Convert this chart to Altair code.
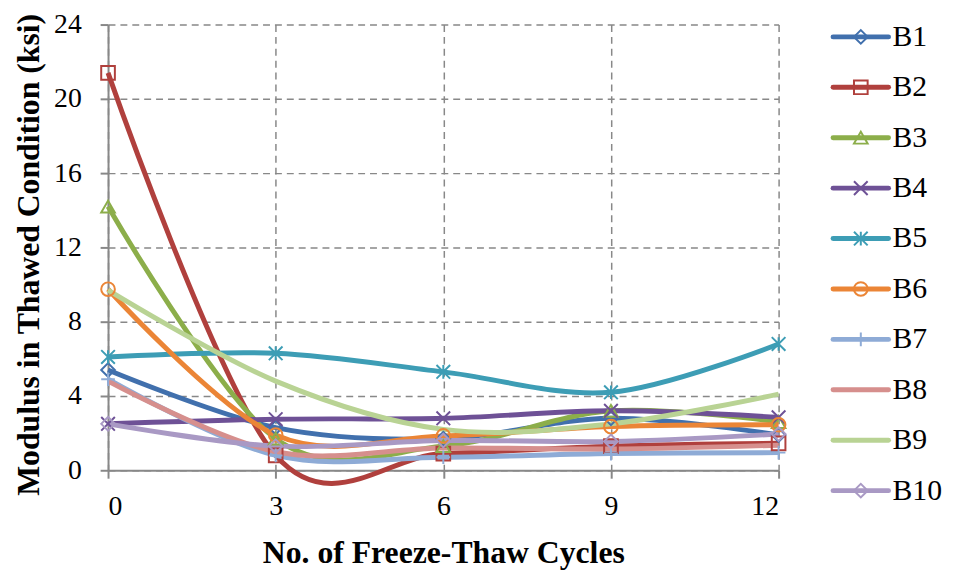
import altair as alt
import pandas as pd

cycles = [0, 3, 6, 9, 12]
series = ["B1", "B2", "B3", "B4", "B5", "B6", "B7", "B8", "B9", "B10"]
values = {
    "B1": [5.4, 2.3, 1.7, 2.8, 1.9],
    "B2": [21.4, 0.8, 0.9, 1.3, 1.45],
    "B3": [14.2, 1.7, 1.3, 3.2, 2.6],
    "B4": [2.5, 2.75, 2.8, 3.2, 2.85],
    "B5": [6.1, 6.3, 5.3, 4.2, 6.8],
    "B6": [9.75, 1.9, 1.85, 2.35, 2.45],
    "B7": [4.9, 0.8, 0.7, 0.9, 0.95],
    "B8": [4.8, 1.0, 1.2, 1.15, 1.35],
    "B9": [9.7, 4.8, 2.2, 2.5, 4.1],
    "B10": [2.5, 1.3, 1.6, 1.55, 1.95],
}
y_ticks = [0, 4, 8, 12, 16, 20, 24]
colors = ["#4170AD", "#B0403D", "#8CAE4A", "#6E5196", "#3D9DB5",
          "#EB8536", "#8EABD6", "#D68F8D", "#B9D394", "#A999C4"]
marker_series = ["B1", "B2", "B3", "B4", "B5", "B6", "B7", "B10"]
marker_shapes = [
    "diamond", "square", "triangle-up",
    "M-1,-1L1,1M-1,1L1,-1",
    "M-1,-1L1,1M-1,1L1,-1M0,-1L0,1",
    "circle",
    "M-1,0L1,0M0,-1L0,1",
    "diamond",
]

rows = []
for i, s in enumerate(series):
    for c, v in zip(cycles, values[s]):
        rows.append({"series": s, "order": i, "cycles": c, "modulus": v})
df = pd.DataFrame(rows)
leg = pd.DataFrame({"series": series})

FONT = "Liberation Serif"
GRAY = "#888888"
color_enc = alt.Color("series:N", scale=alt.Scale(domain=series, range=colors), legend=None)
shape_enc = alt.Shape("series:N", scale=alt.Scale(domain=marker_series, range=marker_shapes), legend=None)

axis_style = dict(labelFont=FONT, labelFontSize=28, labelColor="black",
                  titleFont=FONT, titleFontWeight="bold", titleColor="black",
                  domainColor=GRAY, domainWidth=2, tickColor=GRAY, tickWidth=2, tickSize=8,
                  gridColor=GRAY, gridDash=[7, 5], gridWidth=1.5, format="d")

x_enc = alt.X("cycles:Q", scale=alt.Scale(domain=[0, 12], nice=False),
              axis=alt.Axis(values=cycles, title="No. of Freeze-Thaw Cycles",
                            titleFontSize=32, labelPadding=15, titlePadding=17, **axis_style))
y_enc = alt.Y("modulus:Q", scale=alt.Scale(domain=[0, 24], nice=False),
              axis=alt.Axis(values=y_ticks, title="Modulus in Thawed Condition (ksi)",
                            titleFontSize=32, titleY=232, labelPadding=19, titlePadding=8,
                            **axis_style))

base = alt.Chart(df).encode(x=x_enc, y=y_enc, color=color_enc)
lines = base.mark_line(interpolate="cardinal", strokeWidth=5).encode(
    detail="series:N", order="order:Q")
points = base.transform_filter(
    alt.FieldOneOfPredicate(field="series", oneOf=marker_series)
).mark_point(filled=False, strokeWidth=2, size=190, opacity=1).encode(shape=shape_enc)
main = alt.layer(lines, points)

leg_y = alt.Y("series:N", scale=alt.Scale(domain=series, range=[-13, 496], padding=0), axis=None)
leg_rule = alt.Chart(leg).mark_rule(strokeWidth=5, strokeCap="round").encode(
    x=alt.value(732), x2=alt.value(788), y=leg_y, color=color_enc)
leg_pt = alt.Chart(leg).transform_filter(
    alt.FieldOneOfPredicate(field="series", oneOf=marker_series)
).mark_point(filled=False, strokeWidth=2, size=190, opacity=1).encode(
    x=alt.value(760), y=leg_y, color=color_enc, shape=shape_enc)
leg_txt = alt.Chart(leg).mark_text(align="left", baseline="middle", font=FONT,
                                   fontSize=30, color="black").encode(
    x=alt.value(792), y=leg_y, text="series:N")
legend = alt.layer(leg_rule, leg_pt, leg_txt)

chart = alt.layer(main, legend).resolve_scale(y="independent").properties(
    width=677, height=450,
    padding={"left": 4, "top": 0, "right": 2, "bottom": 2},
).configure_view(stroke=None)

chart.save("out.html", embed_options={"renderer": "svg", "actions": False})
